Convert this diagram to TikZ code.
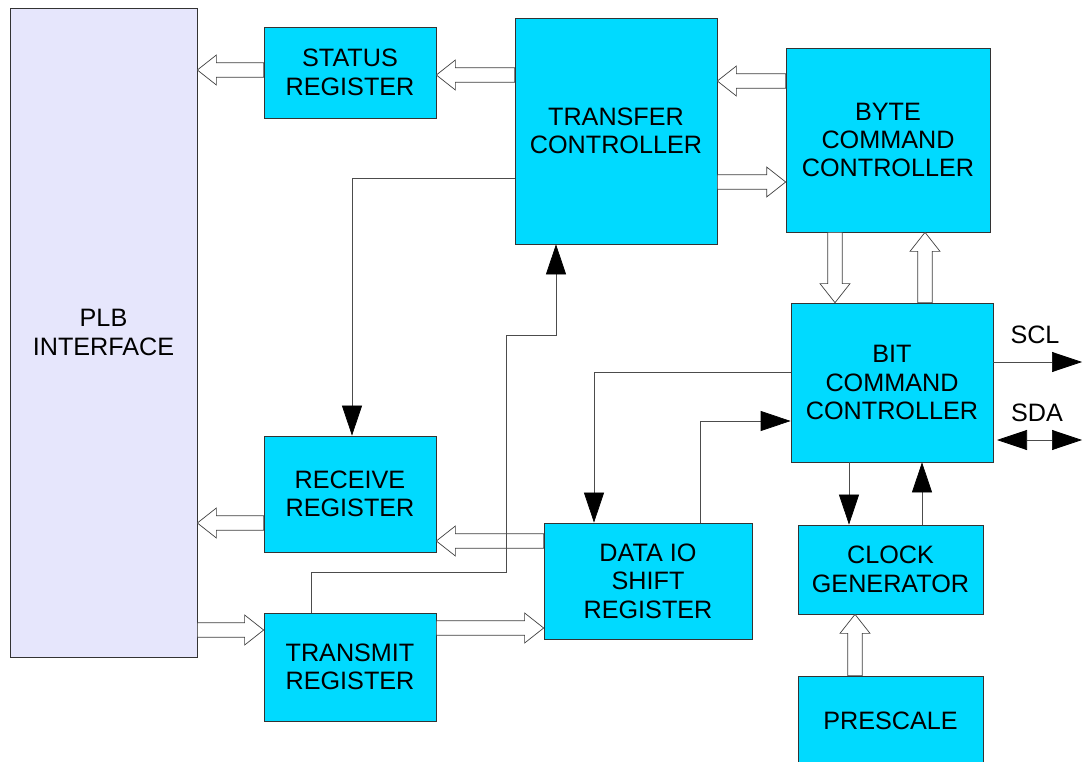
\documentclass[tikz,border=0pt]{standalone}
\usepackage{fontspec}
\setmainfont{Liberation Sans}
\usetikzlibrary{calc,arrows.meta}
\definecolor{boxcyan}{RGB}{0,218,255}
\definecolor{plblue}{RGB}{230,230,252}
\tikzset{
  blk/.style={draw=black!80,line width=0.6pt,fill=boxcyan,align=center,inner sep=0pt,
    font=\fontsize{21.5}{24.2}\selectfont},
  tip/.style={Triangle[length=0.9cm,width=0.6cm,fill=black,color=black]},
  sig/.style={draw=black!70,line width=0.6pt,-{Triangle[length=0.9cm,width=0.6cm,fill=black,color=black]}},
  bus/.style={draw=black!75,line width=0.6pt,fill=white,
    to path={($(\tikztostart)!0.215cm!90:(\tikztotarget)$)
      -- ($($(\tikztotarget)!0.57cm!(\tikztostart)$)!0.215cm!90:(\tikztotarget)$)
      -- ($($(\tikztotarget)!0.57cm!(\tikztostart)$)!0.45cm!90:(\tikztotarget)$)
      -- (\tikztotarget)
      -- ($($(\tikztotarget)!0.57cm!(\tikztostart)$)!0.45cm!-90:(\tikztotarget)$)
      -- ($($(\tikztotarget)!0.57cm!(\tikztostart)$)!0.215cm!-90:(\tikztotarget)$)
      -- ($(\tikztostart)!0.215cm!-90:(\tikztotarget)$) -- cycle}},
}
\begin{document}
\begin{tikzpicture}[x=0.03cm,y=-0.03cm]
    \fill[white] (0,0) rectangle (1084,762);
    \useasboundingbox (0,0) rectangle (1084,762);
    %blocks
    \node[blk,fill=plblue,minimum width=5.61cm,minimum height=19.47cm] (plb) at (103.5,332.5) {PLB\\INTERFACE};
    \node[blk,minimum width=5.16cm,minimum height=2.73cm] (status) at (350,72.5) {STATUS\\REGISTER};
    \node[blk,minimum width=6.06cm,minimum height=6.78cm] (transfer) at (616,131) {TRANSFER\\CONTROLLER};
    \node[blk,minimum width=6.12cm,minimum height=5.52cm] (byte) at (888,140) {BYTE\\COMMAND\\CONTROLLER};
    \node[blk,minimum width=6.06cm,minimum height=4.77cm] (bit) at (892,382.5) {BIT\\COMMAND\\CONTROLLER};
    \node[blk,minimum width=5.16cm,minimum height=3.48cm] (receive) at (350,494) {RECEIVE\\REGISTER};
    \node[blk,minimum width=6.24cm,minimum height=3.48cm] (dataio) at (648,581) {DATA IO\\SHIFT\\REGISTER};
    \node[blk,minimum width=5.16cm,minimum height=3.24cm] (transmit) at (350,667) {TRANSMIT\\REGISTER};
    \node[blk,minimum width=5.55cm,minimum height=2.67cm] (clock) at (890.5,569.5) {CLOCK\\GENERATOR};
    \node[blk,minimum width=5.55cm,minimum height=2.7cm] (prescale) at (890.5,721) {PRESCALE};
    %buses
    \draw[bus] (transfer.west |- 0,75) to (status.east |- 0,75);
    \draw[bus] (status.west |- 0,70) to (plb.east |- 0,70);
    \draw[bus] (byte.west |- 0,81) to (transfer.east |- 0,81);
    \draw[bus] (transfer.east |- 0,182) to (byte.west |- 0,182);
    \draw[bus] (byte.south -| 835,0) to (bit.north -| 835,0);
    \draw[bus] (bit.north -| 925,0) to (byte.south -| 925,0);
    \draw[bus] (dataio.west |- 0,541) to (receive.east |- 0,541);
    \draw[bus] (receive.west |- 0,523) to (plb.east |- 0,523);
    \draw[bus] (plb.east |- 0,630) to (transmit.west |- 0,630);
    \draw[bus] (transmit.east |- 0,628) to (dataio.west |- 0,628);
    \draw[bus] (prescale.north -| 855,0) to (clock.south -| 855,0);
    %signals
    \draw[sig] (transfer.west |- 0,178) -| (receive.north -| 352,0);
    \draw[sig] (transmit.north -| 311,0) |- (506,572) |- (556,335) -- (transfer.south -| 556,0);
    \draw[sig] (bit.west |- 0,372) -| (dataio.north -| 594,0);
    \draw[sig] (dataio.north -| 700,0) |- (bit.west |- 0,421);
    \draw[sig] (bit.south -| 849,0) -- (clock.north -| 849,0);
    \draw[sig] (clock.north -| 922,0) -- (bit.south -| 922,0);
    %SCL, SDA
    \coordinate (scl) at (1082,362);
    \coordinate (sdaa) at (997,440);
    \coordinate (sdab) at (1082,440);
    \draw[sig] (bit.east |- scl) -- (scl);
    \draw[sig,{Triangle[length=0.9cm,width=0.6cm,fill=black,color=black]}-{Triangle[length=0.9cm,width=0.6cm,fill=black,color=black]}] (sdaa) -- (sdab);
    \node[font=\fontsize{21.5}{24.2}\selectfont] (scllabel) at (1035,335) {SCL};
    \node[font=\fontsize{21.5}{24.2}\selectfont] (sdalabel) at (1037,413) {SDA};
\end{tikzpicture}
\end{document}
